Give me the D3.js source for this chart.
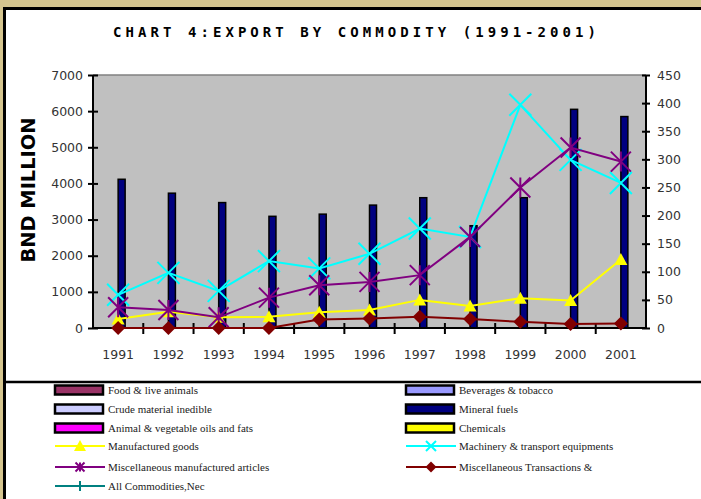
<!DOCTYPE html>
<html>
<head>
<meta charset="utf-8">
<script src="https://cdn.jsdelivr.net/npm/d3@7"></script>
<style>
  body { margin: 0; background: #d5c58f; }
  svg { display: block; }
</style>
</head>
<body>
<svg id="chart"></svg>
<script>
const years = ["1991", "1992", "1993", "1994", "1995", "1996", "1997", "1998", "1999", "2000", "2001"];
const leftTicks = [0, 1000, 2000, 3000, 4000, 5000, 6000, 7000];
const rightTicks = [0, 50, 100, 150, 200, 250, 300, 350, 400, 450];

const barSeries = ["Food & live animals", "Beverages & tobacco", "Crude material inedible",
  "Mineral fuels", "Animal & vegetable oils and fats", "Chemicals"];
const mineralFuels = [4115, 3730, 3470, 3090, 3150, 3400, 3605, 2830, 3605, 6050, 5850];

const manufacturedGoods = [16, 29, 19, 20, 28, 32, 50, 39, 53, 49, 122];
const machinery = [59, 98, 66, 119, 106, 132, 177, 162, 397, 299, 258];
const miscManufactured = [37, 32, 19, 54, 76, 82, 94, 162, 250, 321, 296];
const miscTransactions = [0, 0, 0, 0, 15, 17, 20, 16, 11, 7, 8];

const width = 701, height = 499;
const plot = { left: 93, right: 646, top: 75, bottom: 328 };

const svg = d3.select("#chart").attr("width", width).attr("height", height);

// frame
svg.append("rect").attr("x", 4.5).attr("y", 8.5).attr("width", 720).attr("height", 520)
  .attr("fill", "white").attr("stroke", "black").attr("stroke-width", 3);
svg.append("line").attr("x1", 6).attr("x2", width).attr("y1", 382).attr("y2", 382)
  .attr("stroke", "black").attr("stroke-width", 2.5);

svg.append("text")
  .attr("x", 113).attr("y", 37)
  .attr("textLength", 483).attr("lengthAdjust", "spacing")
  .style("font-family", "DejaVu Sans Mono, monospace")
  .style("font-weight", "bold").style("font-size", "14px")
  .text("CHART 4:EXPORT BY COMMODITY (1991-2001)");

const x = d3.scaleBand().domain(years).range([plot.left, plot.right]);
const xInner = d3.scaleBand().domain(barSeries).range([-21, 21]);
const yL = d3.scaleLinear().domain([0, 7000]).range([plot.bottom, plot.top]);
const yR = d3.scaleLinear().domain([0, 450]).range([plot.bottom, plot.top]);

svg.append("rect")
  .attr("x", plot.left).attr("y", plot.top)
  .attr("width", plot.right - plot.left).attr("height", plot.bottom - plot.top)
  .attr("fill", "#c0c0c0");
svg.append("line").attr("x1", plot.left).attr("x2", plot.right)
  .attr("y1", plot.top).attr("y2", plot.top)
  .attr("stroke", "#808080").attr("stroke-width", 1.5);

// bars
svg.append("g").selectAll("rect")
  .data(mineralFuels)
  .enter().append("rect")
  .attr("x", (d, i) => x(years[i]) + x.bandwidth() / 2 + xInner("Mineral fuels"))
  .attr("y", d => yL(d))
  .attr("width", xInner.bandwidth())
  .attr("height", d => yL(0) - yL(d))
  .attr("fill", "#000080")
  .attr("stroke", "black")
  .attr("stroke-width", 1.5);

// axes
const tickStyle = g => {
  g.select(".domain").remove();
  g.selectAll("line").attr("stroke", "black").attr("stroke-width", 2);
  g.selectAll("text").style("font-family", "DejaVu Sans, sans-serif")
    .style("font-size", "12.5px").attr("fill", "#333");
};

svg.append("g").attr("transform", `translate(${plot.left},0)`)
  .call(d3.axisLeft(yL).tickValues(leftTicks).tickFormat(d3.format("d")).tickSize(5).tickPadding(5))
  .call(tickStyle)
  .call(g => g.selectAll("line").attr("x2", -5).attr("x1", 5));

svg.append("g").attr("transform", `translate(${plot.right},0)`)
  .call(d3.axisRight(yR).tickValues(rightTicks).tickFormat(d3.format("d")).tickSize(5).tickPadding(6))
  .call(tickStyle)
  .call(g => g.selectAll("line").attr("x1", -4).attr("x2", 4));

svg.append("g").attr("transform", `translate(0,${plot.bottom})`)
  .call(d3.axisBottom(x).tickSize(0).tickPadding(22))
  .call(tickStyle);

svg.append("g").selectAll("line")
  .data(years.slice(1))
  .enter().append("line")
  .attr("x1", d => x(d)).attr("x2", d => x(d))
  .attr("y1", plot.bottom - 5).attr("y2", plot.bottom + 6)
  .attr("stroke", "black").attr("stroke-width", 2);

const axisLine = (x1, y1, x2, y2) => svg.append("line")
  .attr("x1", x1).attr("y1", y1).attr("x2", x2).attr("y2", y2)
  .attr("stroke", "black").attr("stroke-width", 2);
axisLine(plot.left, plot.top, plot.left, plot.bottom + 1);
axisLine(plot.right, plot.top, plot.right, plot.bottom + 1);
axisLine(plot.left, plot.bottom, plot.right, plot.bottom);

svg.append("text")
  .attr("transform", `translate(35,190) rotate(-90)`)
  .attr("text-anchor", "middle")
  .style("font-family", "DejaVu Sans, sans-serif")
  .style("font-weight", "900").style("font-size", "19px")
  .attr("textLength", 145).attr("lengthAdjust", "spacingAndGlyphs")
  .text("BND MILLION");

// markers
const markers = {
  triangle: (g, color, s) => g.append("path")
    .attr("d", `M0,${-s}L${s},${s * 0.85}L${-s},${s * 0.85}Z`).attr("fill", color),
  cross: (g, color, s) => g.append("path")
    .attr("d", `M${-s},${-s}L${s},${s}M${-s},${s}L${s},${-s}`)
    .attr("stroke", color).attr("stroke-width", 2).attr("fill", "none"),
  star: (g, color, s) => g.append("path")
    .attr("d", `M${-s},${-s}L${s},${s}M${-s},${s}L${s},${-s}M0,${-s}L0,${s}`)
    .attr("stroke", color).attr("stroke-width", 2).attr("fill", "none"),
  diamond: (g, color, s) => g.append("path")
    .attr("d", `M0,${-s}L${s},0L0,${s}L${-s},0Z`).attr("fill", color),
  plus: (g, color, s) => g.append("path")
    .attr("d", `M${-s},0L${s},0M0,${-s}L0,${s}`)
    .attr("stroke", color).attr("stroke-width", 2).attr("fill", "none")
};

const lineSeries = [
  { name: "Manufactured goods", values: manufacturedGoods, color: "#ffff00", marker: "triangle", size: 6.5 },
  { name: "Machinery & transport equipments", values: machinery, color: "#00ffff", marker: "cross", size: 11 },
  { name: "Miscellaneous manufactured articles", values: miscManufactured, color: "#800080", marker: "star", size: 10 },
  { name: "Miscellaneous Transactions &", values: miscTransactions, color: "#800000", marker: "diamond", size: 7 }
];

const line = d3.line()
  .x((d, i) => x(years[i]) + x.bandwidth() / 2)
  .y(d => yR(d));

lineSeries.forEach(s => {
  svg.append("path").datum(s.values)
    .attr("d", line)
    .attr("fill", "none").attr("stroke", s.color).attr("stroke-width", 2);
  svg.append("g").selectAll("g")
    .data(s.values)
    .enter().append("g")
    .attr("transform", (d, i) => `translate(${x(years[i]) + x.bandwidth() / 2},${yR(d)})`)
    .each(function() { markers[s.marker](d3.select(this), s.color, s.size); });
});

// legend
const legendItems = [
  { name: "Food & live animals", type: "box", color: "#993366" },
  { name: "Beverages & tobacco", type: "box", color: "#9999ff" },
  { name: "Crude material inedible", type: "box", color: "#ccccff" },
  { name: "Mineral fuels", type: "box", color: "#000080" },
  { name: "Animal & vegetable oils and fats", type: "box", color: "#ff00ff" },
  { name: "Chemicals", type: "box", color: "#ffff00" },
  { name: "Manufactured goods", type: "line", color: "#ffff00", marker: "triangle", size: 6 },
  { name: "Machinery & transport equipments", type: "line", color: "#00ffff", marker: "cross", size: 5 },
  { name: "Miscellaneous manufactured articles", type: "line", color: "#800080", marker: "star", size: 4.5 },
  { name: "Miscellaneous Transactions &", type: "line", color: "#800000", marker: "diamond", size: 5.5 },
  { name: "All Commodities,Nec", type: "line", color: "#008080", marker: "plus", size: 5 }
];
const rowY = [390, 409, 428, 446, 467, 486];
const colX = [55, 406];

const legend = svg.append("g").selectAll("g")
  .data(legendItems)
  .enter().append("g")
  .attr("transform", (d, i) => `translate(${colX[i % 2]},${rowY[Math.floor(i / 2)]})`);

legend.each(function(d) {
  const g = d3.select(this);
  if (d.type === "box") {
    g.append("rect").attr("x", 0).attr("y", -4.5).attr("width", 48).attr("height", 9)
      .attr("fill", d.color).attr("stroke", "black").attr("stroke-width", 2.5);
  } else {
    g.append("line").attr("x1", 0).attr("x2", 50).attr("y1", 0).attr("y2", 0)
      .attr("stroke", d.color).attr("stroke-width", 2);
    markers[d.marker](g.append("g").attr("transform", "translate(25,0)"), d.color, d.size);
  }
  g.append("text").attr("x", 53).attr("y", 4)
    .style("font-family", "Liberation Serif, serif").style("font-size", "11px")
    .attr("fill", "#222")
    .text(d.name);
});
</script>
</body>
</html>
